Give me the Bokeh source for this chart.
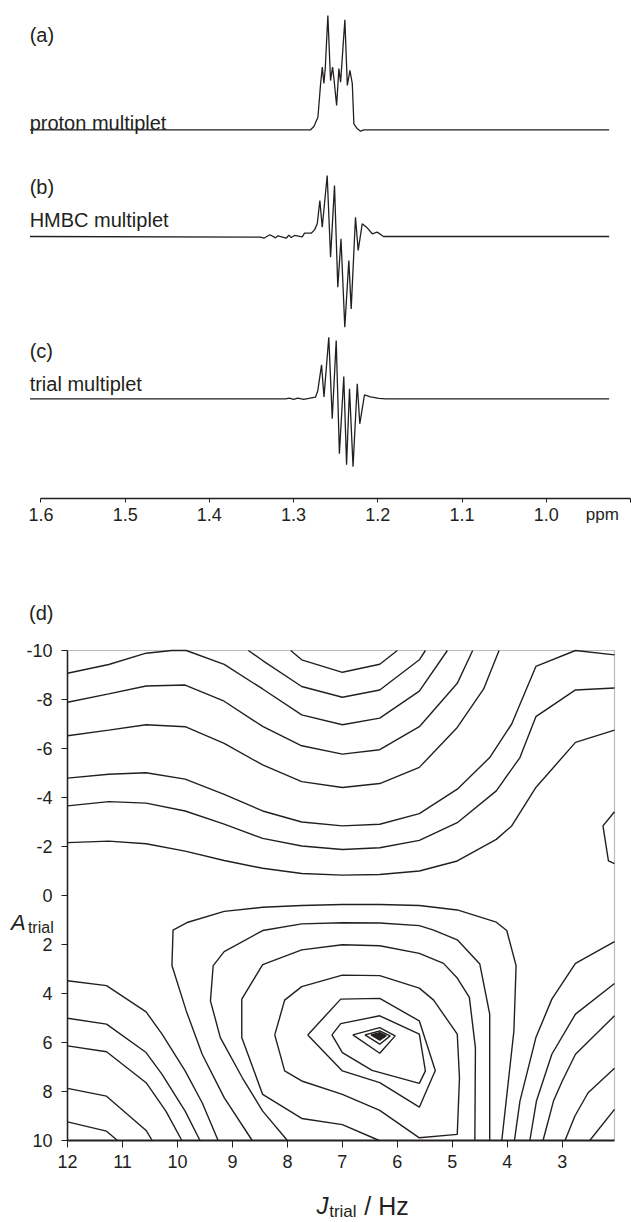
from bokeh.plotting import figure
from bokeh.models import Range1d, Label, FixedTicker, PrintfTickFormatter, BoxAnnotation
from bokeh.layouts import column
from bokeh.embed import file_html
from bokeh.resources import INLINE

INK = "#231f20"
FONT = "Liberation Sans"

# ---------------- spectra (ppm, intensity in arbitrary units) ----------------
proton_ppm = [1.613, 1.2798, 1.2759, 1.2711, 1.2679, 1.2659, 1.2640, 1.2624, 1.2593, 1.2561,
              1.2537, 1.2521, 1.2489, 1.2462, 1.2442, 1.2391, 1.2362, 1.2331, 1.2303, 1.2284,
              1.2243, 1.2204, 1.2165, 0.9253]
proton_int = [0, 0, 2.9, 11.0, 40.5, 54.8, 40.5, 53.6, 100.0, 43.1,
              54.8, 44.9, 21.3, 53.6, 41.6, 96.2, 38.8, 51.9, 40.5, 5.2,
              0.9, -1.2, 0, 0]

hmbc_ppm = [1.613, 1.3392, 1.3353, 1.3282, 1.3214, 1.3187, 1.3087, 1.3057, 1.3028, 1.2989,
            1.2897, 1.2870, 1.2791, 1.2751, 1.2719, 1.2688, 1.2660, 1.2601, 1.2561, 1.2514,
            1.2475, 1.2437, 1.2392, 1.2344, 1.2316, 1.2265, 1.2233, 1.2185, 1.2126, 1.2066,
            1.2007, 1.1932, 0.9253]
hmbc_int = [0, -0.6, -1.5, 1.5, -1.2, 0.6, -1.5, 1.2, -0.9, 0.9,
            -0.3, 2.9, 2.9, 5.8, 11.1, 31.5, 8.1, 53.4, -18.1, 44.6,
            -44.4, -2.0, -79.4, -21.0, -63.3, 16.9, -12.2, 11.1, 7.6, 2.4,
            3.8, 0, 0]

trial_ppm = [1.613, 1.3095, 1.305, 1.300, 1.295, 1.288, 1.282, 1.2740, 1.2712, 1.2668,
             1.2639, 1.2582, 1.2541, 1.2494, 1.2456, 1.2404, 1.2371, 1.2336, 1.2294, 1.2244,
             1.2214, 1.2158, 1.2087, 1.1988, 1.1908, 0.9253]
trial_int = [0, 0, 0.5, -0.4, 0.6, -0.5, 0.3, 1.4, 7.3, 29.7,
             1.7, 53.9, -17.5, 51.0, -48.1, 19.5, -57.7, 8.7, -59.5, 13.1,
             -21.9, 3.5, 1.7, 0.4, 0, 0]

spectrum_names = ["proton multiplet", "HMBC multiplet", "trial multiplet"]
panel_tags = ["(a)", "(b)", "(c)"]
ppm_ticks = [1.6, 1.5, 1.4, 1.3, 1.2, 1.1, 1.0, 0.9]

# ---------------- contour lines of the (J, A) map ----------------
contour_J = [
    [7.94, 7.74, 7.00, 6.32, 6.00],
    [8.71, 8.45, 7.74, 7.00, 6.32, 5.60, 5.49],
    [12.0, 11.25, 10.57, 10.10, 9.84, 9.15, 8.45, 7.74, 7.00, 6.32, 5.60, 5.09],
    [12.0, 11.25, 10.57, 9.86, 9.15, 8.45, 7.74, 7.00, 6.32, 5.60, 4.91, 4.63],
    [12.0, 11.25, 10.57, 9.86, 9.15, 8.45, 7.74, 7.00, 6.32, 5.60, 4.91, 4.43, 4.15],
    [12.0, 11.25, 10.57, 9.86, 9.15, 8.45, 7.74, 7.00, 6.32, 5.60, 4.91, 4.32, 3.92, 3.48, 2.76, 2.05],
    [12.0, 11.25, 10.57, 9.86, 9.15, 8.45, 7.74, 7.00, 6.32, 5.60, 4.91, 4.20, 3.77, 3.48, 2.76, 2.05],
    [12.0, 11.25, 10.57, 9.86, 9.15, 8.45, 7.74, 7.00, 6.32, 5.60, 4.91, 4.20, 3.92, 3.48, 2.76, 2.05],
    [2.05, 2.26, 2.16, 2.05],
    [8.64, 9.15, 9.55, 9.84, 10.10, 10.08, 9.81, 9.15, 8.45, 7.74, 7.00, 6.32, 5.60, 4.91, 4.20, 4.01, 3.84, 3.88, 4.10],
    [8.00, 8.45, 8.82, 9.22, 9.40, 9.35, 9.15, 8.45, 7.74, 7.00, 6.32, 5.60, 5.34, 4.91, 4.50, 4.32, 4.32],
    [6.33, 7.00, 7.74, 8.45, 8.83, 8.83, 8.45, 7.74, 7.00, 6.32, 5.60, 5.16, 4.91, 4.69, 4.58, 4.59],
    [8.23, 8.05, 7.74, 7.00, 6.32, 5.60, 5.34, 4.91, 4.87, 4.91, 5.60, 6.32, 7.00, 7.74, 8.05, 8.23],
    [7.63, 7.03, 6.32, 5.60, 5.31, 5.60, 6.32, 7.00, 7.63],
    [7.19, 7.03, 6.32, 5.60, 5.49, 5.60, 6.46, 7.00, 7.19],
    [6.81, 6.32, 6.04, 6.32, 6.81],
    [6.59, 6.32, 6.13, 6.32, 6.59],
    [12.0, 11.29, 10.57, 10.28, 9.86, 9.55, 9.26],
    [12.0, 11.29, 10.57, 10.28, 9.86, 9.59],
    [12.0, 11.29, 10.57, 10.21, 9.92],
    [12.0, 11.29, 10.57, 10.46],
    [12.0, 11.29, 11.09],
    [2.05, 2.76, 3.19, 3.48, 3.77, 3.87],
    [2.05, 2.76, 3.19, 3.47, 3.59],
    [2.05, 2.76, 3.00, 3.16, 3.35],
    [2.05, 2.53, 2.77, 2.95],
    [2.05, 2.50],
]
contour_A = [
    [-10.0, -9.62, -9.11, -9.44, -10.0],
    [-10.0, -9.59, -8.53, -8.09, -8.39, -9.62, -10.0],
    [-9.07, -9.43, -9.89, -10.0, -10.0, -9.43, -8.43, -7.37, -6.97, -7.24, -8.34, -10.0],
    [-7.89, -8.23, -8.55, -8.59, -7.93, -6.90, -6.11, -5.77, -5.95, -6.89, -8.66, -10.0],
    [-6.52, -6.75, -6.97, -6.89, -6.21, -5.33, -4.65, -4.41, -4.57, -5.23, -6.86, -8.43, -10.0],
    [-4.79, -4.95, -5.01, -4.75, -4.13, -3.45, -3.00, -2.84, -2.91, -3.34, -4.34, -5.63, -7.00, -9.35, -10.0, -9.82],
    [-3.66, -3.83, -3.77, -3.45, -2.91, -2.33, -2.02, -1.88, -1.95, -2.25, -2.97, -4.27, -5.63, -7.30, -8.39, -8.47],
    [-2.16, -2.22, -2.11, -1.81, -1.43, -1.11, -0.90, -0.83, -0.86, -1.00, -1.41, -2.29, -2.84, -4.41, -6.25, -6.75],
    [-3.42, -2.84, -1.41, -1.30],
    [10.0, 8.25, 6.48, 4.71, 2.86, 1.41, 1.09, 0.65, 0.48, 0.41, 0.37, 0.37, 0.41, 0.59, 1.09, 1.43, 2.86, 5.53, 10.0],
    [10.0, 8.80, 7.44, 5.80, 4.30, 2.86, 2.29, 1.43, 1.16, 1.11, 1.12, 1.23, 1.41, 1.81, 2.80, 4.84, 10.0],
    [10.0, 9.35, 9.10, 8.12, 5.80, 4.23, 2.82, 2.22, 2.01, 2.05, 2.36, 2.77, 3.37, 4.16, 6.21, 10.0],
    [5.69, 4.27, 3.72, 3.25, 3.27, 3.78, 4.27, 5.66, 7.44, 9.75, 9.89, 8.77, 8.12, 7.57, 7.16, 5.69],
    [5.69, 4.23, 4.20, 5.12, 7.14, 8.64, 7.64, 7.16, 5.69],
    [5.69, 5.23, 4.91, 5.66, 7.16, 7.67, 7.14, 6.41, 5.69],
    [5.69, 5.39, 5.73, 6.44, 5.69],
    [5.69, 5.53, 5.73, 6.07, 5.69],
    [3.48, 3.68, 4.75, 5.66, 7.16, 8.46, 10.0],
    [5.01, 5.25, 6.41, 7.30, 8.80, 10.0],
    [6.14, 6.38, 7.64, 8.80, 10.0],
    [7.87, 8.19, 9.59, 10.0],
    [9.24, 9.62, 10.0],
    [1.88, 2.77, 4.23, 5.80, 8.39, 10.0],
    [3.59, 4.84, 6.48, 8.39, 10.0],
    [4.91, 6.48, 7.57, 8.39, 10.0],
    [7.05, 8.05, 9.00, 10.0],
    [8.73, 10.0],
]
peak_J = [6.48, 6.32, 6.20, 6.32]
peak_A = [5.69, 5.59, 5.72, 5.91]

J_ticks = [12, 11, 10, 9, 8, 7, 6, 5, 4, 3]
A_ticks = [-10, -8, -6, -4, -2, 0, 2, 4, 6, 8, 10]
J_lim = (12.0, 2.05)
A_lim = (-10.0, 10.0)

# ---------------- layout constants (pixels) ----------------
W = 631
TOP_H = 560
AXIS_Y = 498            # pixel row of the ppm axis
PX_PER_PPM = 842.2
PPM_LEFT = 1.648        # ppm at the left edge of the page
SPEC_SCALE = 1.143      # px per intensity unit
baselines = [129.3, 236.0, 398.3]
tag_y = [34, 186, 350]
name_y = [122, 219, 383]
TEXT_X = 1.6134

BOT_H = 1222 - TOP_H
BOX_L, BOX_R, BOX_T, BOX_B = 67, 614, 90, 580   # contour box inside the lower canvas
KX = (BOX_R - BOX_L) / (J_lim[0] - J_lim[1])
KY = (BOX_B - BOX_T) / (A_lim[1] - A_lim[0])


def style_axis(ax, size="18px"):
    ax.axis_line_color = INK
    ax.major_tick_line_color = INK
    ax.minor_tick_line_color = None
    ax.major_tick_in = 0
    ax.major_label_text_font = FONT
    ax.major_label_text_font_size = size
    ax.major_label_text_color = INK


def label(p, x, y, text, size, baseline="alphabetic", style="normal"):
    p.add_layout(Label(x=x, y=y, text=text, text_font=FONT, text_font_size=size,
                       text_font_style=style, text_color=INK, text_baseline=baseline,
                       text_align="left"))


# ---------------- spectra figure (frame = whole canvas) ----------------
p1 = figure(width=W, height=TOP_H,
            x_range=Range1d(PPM_LEFT, PPM_LEFT - W / PX_PER_PPM),
            y_range=Range1d(TOP_H, 0),
            output_backend="svg", toolbar_location=None, y_axis_location=None,
            min_border=0)
p1.grid.visible = False
p1.outline_line_color = None
ax1 = p1.xaxis[0]
style_axis(ax1)
ax1.fixed_location = AXIS_Y
ax1.ticker = FixedTicker(ticks=ppm_ticks)
ax1.formatter = PrintfTickFormatter(format="%.1f")
ax1.major_label_overrides = {0.9: ""}
ax1.bounds = (0.9, 1.6)
ax1.axis_line_width = 1.3
ax1.major_tick_out = 4
ax1.major_label_standoff = 5

spectra = [(proton_ppm, proton_int), (hmbc_ppm, hmbc_int), (trial_ppm, trial_int)]
for (ppm, inten), base, tag, ty, name, ny in zip(spectra, baselines, panel_tags, tag_y,
                                                  spectrum_names, name_y):
    ys = [base - v * SPEC_SCALE for v in inten]
    p1.line(ppm, ys, line_color=INK, line_width=1.3)
    label(p1, TEXT_X, ty, tag, "20px", baseline="middle")
    label(p1, TEXT_X, ny, name, "20px")

label(p1, 0.953, 504, "ppm", "17px", baseline="top")

# ---------------- contour figure (frame = whole canvas) ----------------
p2 = figure(width=W, height=BOT_H,
            x_range=Range1d(J_lim[0] + BOX_L / KX, J_lim[1] - (W - BOX_R) / KX),
            y_range=Range1d(A_lim[1] + (BOT_H - BOX_B) / KY, A_lim[0] - BOX_T / KY),
            output_backend="svg", toolbar_location=None, min_border=0)
p2.grid.visible = False
p2.outline_line_color = None
axx, axy = p2.xaxis[0], p2.yaxis[0]
style_axis(axx)
style_axis(axy)
axx.fixed_location = A_lim[1]
axy.fixed_location = J_lim[0]
axx.bounds = (J_lim[1], J_lim[0])
axy.bounds = A_lim
axx.ticker = FixedTicker(ticks=J_ticks)
axy.ticker = FixedTicker(ticks=A_ticks)
axx.formatter = PrintfTickFormatter(format="%d")
axy.formatter = PrintfTickFormatter(format="%d")
axx.axis_line_width = 2
axy.axis_line_width = 1.5
axx.major_tick_out = 7
axy.major_tick_out = 6
axx.major_label_standoff = 7
axy.major_label_standoff = 9

p2.add_layout(BoxAnnotation(left=J_lim[0], right=J_lim[1], top=A_lim[0], bottom=A_lim[1],
                            fill_color=None, line_color=INK, line_width=1.2))
p2.multi_line(xs=contour_J, ys=contour_A, line_color=INK, line_width=1.4)
p2.patch(peak_J, peak_A, fill_color=INK, line_color=INK, line_width=1.2)

label(p2, 12.70, -11.53, "(d)", "20px", baseline="middle")
label(p2, 13.03, 1.10, "A", "22px", style="italic")
label(p2, 12.72, 1.30, "trial", "16px")
label(p2, 7.47, 12.67, "J", "24px", style="italic")
label(p2, 7.24, 12.88, "trial", "17px")
label(p2, 6.60, 12.67, "/ Hz", "25px")

layout = column(p1, p2, spacing=0)
open("out.html", "w").write(file_html(layout, INLINE))
